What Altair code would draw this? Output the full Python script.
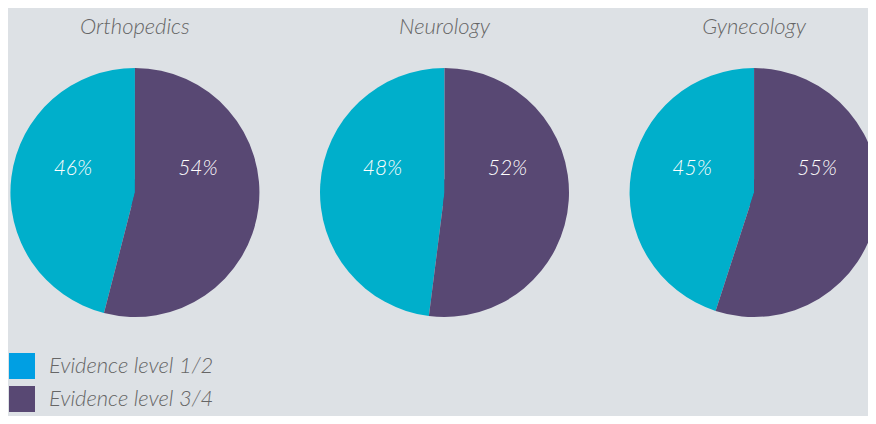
import altair as alt
import pandas as pd

departments = ["Orthopedics", "Neurology", "Gynecology"]
levels = ["Evidence level 1/2", "Evidence level 3/4"]
level12 = [46, 48, 45]
level34 = [54, 52, 55]
pie_colors = ["#00afcb", "#584873"]
legend_colors = ["#009fe3", "#584873"]

rows = []
for d, a, b in zip(departments, level12, level34):
    rows.append({"dept": d, "level": levels[0], "value": a})
    rows.append({"dept": d, "level": levels[1], "value": b})
df = pd.DataFrame(rows)

FONT = "Lato"
GRAY = "#666666"

xenc = alt.X("dept:N", sort=departments, axis=None,
             scale=alt.Scale(type="point", padding=0.389, align=0.527))

base = alt.Chart(df).encode(x=xenc)

# hidden squares (under the pies) that only feed the legend
legend_src = base.transform_calculate(legend_level="datum.level").mark_square(
    size=676, opacity=1
).encode(
    color=alt.Color("legend_level:N", scale=alt.Scale(domain=levels, range=legend_colors),
                    legend=alt.Legend(title=None, orient="none", legendX=1, legendY=345,
                                      direction="vertical", symbolOpacity=1))
)

arcs = base.transform_window(
    cum="sum(value)", groupby=["dept"], sort=[alt.SortField("level", order="descending")]
).transform_calculate(start="datum.cum - datum.value").mark_arc(
    outerRadius=124.5, strokeWidth=0
).encode(
    theta=alt.Theta("start:Q", stack=False, scale=alt.Scale(domain=[0, 100])),
    theta2="cum:Q",
    fill=alt.Fill("level:N", scale=alt.Scale(domain=levels, range=pie_colors), legend=None),
)

txt_style = dict(font=FONT, fontSize=21, fontStyle="italic", fontWeight=300,
                 color="white", align="center", baseline="middle", dy=-24)

t_left = base.transform_filter(alt.datum.level == levels[0]).transform_calculate(
    label="datum.value + '%'"
).mark_text(dx=-62, **txt_style).encode(text="label:N")

t_right = base.transform_filter(alt.datum.level == levels[1]).transform_calculate(
    label="datum.value + '%'"
).mark_text(dx=63, **txt_style).encode(text="label:N")

titles = base.transform_filter(alt.datum.level == levels[0]).mark_text(
    font=FONT, fontSize=22, fontStyle="italic", fontWeight=300, color=GRAY,
    align="center", baseline="alphabetic", dy=-159
).encode(text="dept:N")

chart = alt.layer(legend_src, arcs, t_left, t_right, titles).properties(
    width=860, height=369,
    autosize=alt.AutoSizeParams(type="none"),
    padding={"left": 0, "top": 0, "right": 0, "bottom": 39},
).configure(background="#dde1e5").configure_view(stroke=None).configure_legend(
    symbolType="square", symbolSize=676,
    symbolStrokeWidth=0, labelFont=FONT, labelFontSize=22,
    labelFontStyle="italic", labelFontWeight=300, labelColor=GRAY,
    labelLimit=400, rowPadding=7, labelOffset=14, padding=0
)

chart.save("out.html", embed_options={"renderer": "svg", "actions": False})
